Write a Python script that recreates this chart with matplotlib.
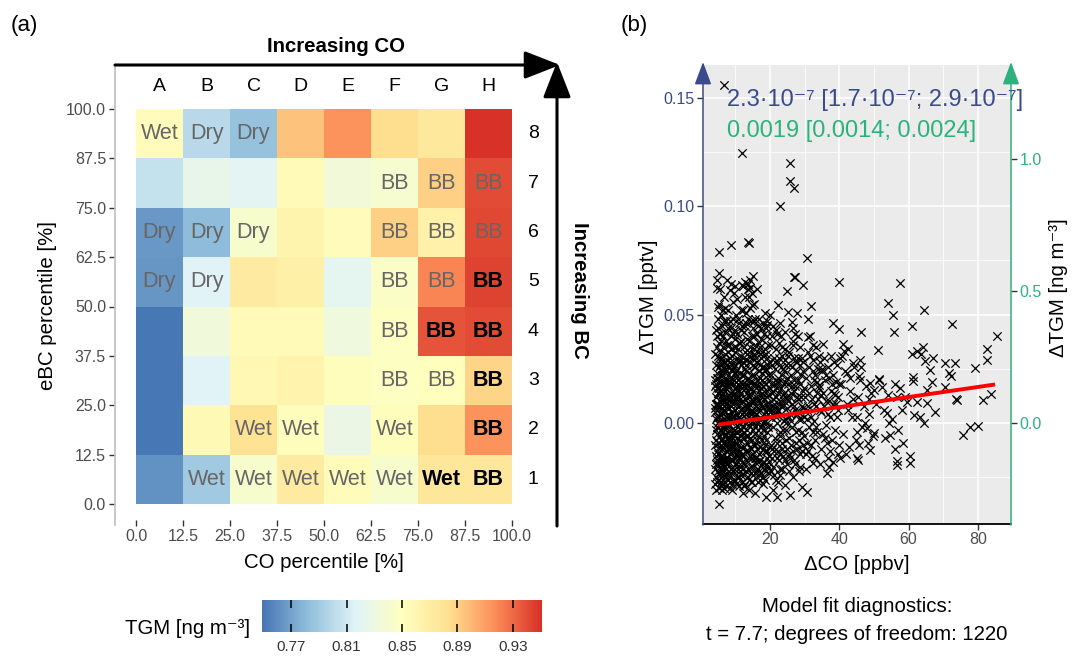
import numpy as np
import matplotlib
matplotlib.use('Agg')
import matplotlib.pyplot as plt
from matplotlib.colors import LinearSegmentedColormap
from matplotlib.patches import FancyArrowPatch, ArrowStyle
from matplotlib.ticker import FixedLocator

plt.rcParams['font.family'] = ['Liberation Sans', 'DejaVu Sans']

# ---------------- data: panel (a) ----------------
co_edges = [0.0, 12.5, 25.0, 37.5, 50.0, 62.5, 75.0, 87.5, 100.0]
bc_edges = [0.0, 12.5, 25.0, 37.5, 50.0, 62.5, 75.0, 87.5, 100.0]
col_names = ['A', 'B', 'C', 'D', 'E', 'F', 'G', 'H']
row_names = ['1', '2', '3', '4', '5', '6', '7', '8']

# mean TGM [ng m-3], rows = BC class 1 (bottom) .. 8 (top)
tgm_grid = [
    [0.762, 0.790, 0.842, 0.872, 0.853, 0.842, 0.876, 0.876],
    [0.750, 0.857, 0.880, 0.852, 0.828, 0.852, 0.884, 0.915],
    [0.750, 0.817, 0.858, 0.863, 0.852, 0.848, 0.851, 0.888],
    [0.750, 0.834, 0.856, 0.855, 0.832, 0.848, 0.938, 0.940],
    [0.764, 0.817, 0.872, 0.866, 0.822, 0.846, 0.920, 0.944],
    [0.765, 0.782, 0.842, 0.862, 0.853, 0.890, 0.865, 0.942],
    [0.805, 0.825, 0.820, 0.855, 0.835, 0.840, 0.890, 0.940],
    [0.853, 0.800, 0.785, 0.895, 0.915, 0.884, 0.875, 0.950],
]
cell_labels = [
    ['', 'Wet', 'Wet', 'Wet', 'Wet', 'Wet', 'Wet', 'BB'],
    ['', '', 'Wet', 'Wet', '', 'Wet', '', 'BB'],
    ['', '', '', '', '', 'BB', 'BB', 'BB'],
    ['', '', '', '', '', 'BB', 'BB', 'BB'],
    ['Dry', 'Dry', '', '', '', 'BB', 'BB', 'BB'],
    ['Dry', 'Dry', 'Dry', '', '', 'BB', 'BB', 'BB'],
    ['', '', '', '', '', 'BB', 'BB', 'BB'],
    ['Wet', 'Dry', 'Dry', '', '', '', '', ''],
]
cell_bold = [
    [0, 0, 0, 0, 0, 0, 1, 1],
    [0, 0, 0, 0, 0, 0, 0, 1],
    [0, 0, 0, 0, 0, 0, 0, 1],
    [0, 0, 0, 0, 0, 0, 1, 1],
    [0, 0, 0, 0, 0, 0, 0, 1],
    [0, 0, 0, 0, 0, 0, 0, 0],
    [0, 0, 0, 0, 0, 0, 0, 0],
    [0, 0, 0, 0, 0, 0, 0, 0],
]
cbar_ticks = [0.77, 0.81, 0.85, 0.89, 0.93]
tgm_range = (0.749, 0.951)

# ---------------- data: panel (b) ----------------
# sparse points (dCO [ppbv], dTGM [pptv])
outer_pts = """
6.7 0.156, 11.8 0.1246, 25.8 0.1197, 25.8 0.1117, 26.9 0.1086, 22.9 0.1003, 5.3 0.079, 8.7 0.082,
13.7 0.0836, 13.9 0.0830, 30.8 0.0759, 27.2 0.0675, 39.8 0.0651, 57.5 0.0647, 54.0 0.0552, 55.5 0.0498,
64.5 0.0521, 72.5 0.0456, 55.9 0.0421, 61.0 0.0447, 46.3 0.0421, 40.0 0.0436, 85.5 0.0401, 82.6 0.0340,
82.6 0.0290, 79.1 0.0255, 70.4 0.0278, 73.3 0.0278, 71.8 0.0232, 72.2 0.0218, 83.9 0.0134, 81.5 0.0106,
74.0 0.0106, 73.6 0.0112, 70.6 0.0167, 67.7 0.0052, 75.6 -0.0055, 77.8 -0.0020, 80.0 -0.0014, 64.5 -0.0001,
63.4 0.0029, 61.6 0.0037, 59.5 0.0098, 65.3 0.0091, 60.3 -0.0183, 60.3 -0.0152, 56.6 -0.0194, 56.6 -0.0175,
58.3 -0.0091, 56.1 -0.0121, 54.7 -0.0055, 54.5 -0.0001, 53.7 0.0045, 52.2 0.0167, 61.4 0.0213, 61.4 0.0196,
64.1 0.0352, 62.4 0.0332, 61.0 0.0321, 63.6 0.0321, 64.8 0.0286, 66.2 0.0247, 67.2 0.0298, 65.3 0.0152,
66.7 0.0190, 62.4 0.0098, 57.6 0.0164, 56.6 0.0121, 51.6 0.0203, 51.3 0.0336, 48.9 0.0183, 49.9 0.0152,
45.8 0.0217, 46.0 0.0290, 44.1 0.0275, 42.2 0.0229, 40.2 0.0298, 41.4 0.0333, 41.2 0.0367, 35.2 0.0367,
32.5 0.0359, 31.1 0.0395, 31.1 0.0482, 31.9 0.0539, 29.6 0.0636, 27.0 0.0674, 24.8 0.0608, 22.2 0.0544,
26.4 0.0467, 27.7 0.0506, 19.0 0.0452, 18.6 0.0506, 38.3 0.0460, 34.0 0.0175, 39.7 0.0121, 42.6 0.0060,
45.1 0.0029, 47.9 -0.0024, 49.9 -0.0047, 48.9 -0.0124, 45.1 -0.0163, 45.4 -0.0172, 40.2 -0.0163, 36.4 -0.0232,
36.9 -0.0201, 32.5 -0.0186, 30.6 -0.0317, 29.2 -0.0294, 26.7 -0.0247, 25.8 -0.0332, 24.3 -0.0286, 21.9 -0.0340,
20.8 -0.0309, 18.8 -0.0340, 15.7 -0.0324, 12.3 -0.0324, 22.9 -0.0240, 17.1 -0.0263, 5.3 -0.0373, 5.8 -0.0286,
5.3 0.069, 7.5 0.066, 9.8 0.063, 13.6 0.064, 15.0 0.068, 16.2 0.062, 10.5 0.057, 4.6 0.0622, 8.4 0.0613,
14.2 0.0622, 11.8 0.0636, 5.0 0.0536, 14.7 0.0544, 25.2 0.0513
"""
# dense core of the cloud, estimated by eye (first pass)
core_pts = """
4.2 -0.021, 4.5 0.012, 4.8 -0.005, 5.0 0.031, 5.3 -0.018, 5.6 0.004, 5.9 -0.027, 6.2 0.018, 6.5 -0.011,
6.8 0.026, 7.1 -0.002, 7.4 0.009, 7.7 -0.016, 4.3 0.002, 4.7 -0.013, 5.1 0.021, 5.5 -0.024, 5.8 0.011,
6.1 -0.008, 6.4 0.035, 6.7 -0.020, 7.0 0.015, 7.3 -0.029, 7.6 0.003, 7.9 0.022, 4.4 0.027, 4.9 -0.009,
5.2 0.008, 5.7 -0.003, 6.0 0.045, 6.3 -0.015, 6.6 0.006, 6.9 -0.025, 7.2 0.038, 7.5 -0.007, 7.8 0.013,
4.6 -0.017, 5.4 0.016, 6.0 -0.012, 6.6 0.028, 7.3 0.001, 4.1 0.007, 4.8 0.040, 5.5 -0.001, 6.2 -0.022,
6.9 0.010, 7.6 -0.019, 5.0 -0.026, 5.7 0.024, 6.4 -0.004, 7.1 0.020, 7.8 -0.010, 4.5 -0.008, 5.3 0.055,
6.1 0.030, 6.8 -0.014, 7.5 0.017, 4.2 0.017, 5.0 0.000, 5.8 -0.021, 6.5 0.012, 7.2 -0.005, 7.9 0.033,
4.9 0.048, 5.6 0.062, 6.3 0.052, 7.0 0.042, 4.6 0.066, 5.9 0.038, 6.7 0.058, 7.4 0.047, 5.2 -0.030,
6.0 -0.028, 6.8 0.002, 4.3 -0.025, 5.1 0.014, 5.9 0.005, 6.6 -0.009, 7.4 0.024, 4.7 0.021, 5.4 -0.011,
6.2 0.009, 7.0 -0.017, 7.7 0.007, 4.4 -0.003, 5.2 0.026, 5.9 -0.016, 6.7 0.019, 7.5 -0.023, 4.8 0.009,
5.5 0.033, 6.3 -0.026, 7.1 0.028, 7.8 -0.001,
8.1 -0.018, 8.4 0.011, 8.7 -0.006, 9.0 0.024, 9.3 -0.022, 9.6 0.003, 9.9 0.016, 10.2 -0.012, 10.5 0.030,
10.8 -0.002, 11.1 0.008, 11.4 -0.020, 11.7 0.019, 8.2 0.036, 8.5 -0.027, 8.8 0.014, 9.1 -0.009, 9.4 0.041,
9.7 -0.015, 10.0 0.006, 10.3 0.022, 10.6 -0.025, 10.9 0.012, 11.2 -0.008, 11.5 0.027, 11.8 -0.014,
8.3 0.001, 8.6 0.021, 8.9 -0.031, 9.2 0.009, 9.5 -0.003, 9.8 0.033, 10.1 -0.019, 10.4 0.015, 10.7 -0.010,
11.0 0.046, 11.3 0.002, 11.6 -0.024, 11.9 0.010, 8.0 0.052, 8.6 0.064, 9.2 0.056, 9.7 0.060, 10.3 0.050,
10.9 0.037, 11.5 0.043, 8.3 -0.011, 8.9 0.005, 9.4 -0.017, 10.0 0.027, 10.6 0.004, 11.1 -0.016, 11.7 0.031,
8.4 0.028, 9.0 -0.013, 9.6 0.018, 10.2 -0.004, 10.8 0.020, 11.4 0.000, 8.8 -0.021, 9.9 -0.026, 11.0 -0.029,
8.2 0.007, 9.3 0.013, 10.5 -0.007, 11.6 0.014, 8.7 0.044, 9.8 0.039, 10.9 0.029, 8.5 -0.001, 9.5 0.026,
10.4 -0.014, 11.3 0.023, 11.9 -0.005, 8.1 0.017, 9.1 0.031, 10.1 0.011, 11.2 0.017, 8.9 0.025, 10.7 0.034,
8.6 -0.008, 9.7 -0.006, 10.6 0.009, 11.5 -0.011,
12.1 -0.015, 12.4 0.008, 12.7 0.025, 13.0 -0.006, 13.3 0.014, 13.6 -0.021, 13.9 0.033, 14.2 0.002,
14.5 -0.012, 14.8 0.019, 15.1 -0.003, 15.4 0.040, 15.7 -0.018, 12.2 0.030, 12.5 -0.024, 12.8 0.011,
13.1 0.046, 13.4 -0.009, 13.7 0.021, 14.0 -0.016, 14.3 0.028, 14.6 0.005, 14.9 -0.027, 15.2 0.015,
15.5 0.003, 15.8 0.026, 12.3 0.063, 12.9 0.065, 13.5 0.062, 14.1 0.066, 14.7 0.060, 15.3 0.055,
12.6 0.042, 13.2 0.051, 13.8 0.038, 14.4 0.047, 15.0 0.044, 15.6 0.036, 12.0 0.004, 12.6 -0.007,
13.2 0.018, 13.8 -0.001, 14.4 -0.020, 15.0 0.010, 15.6 -0.010, 12.4 0.022, 13.0 -0.017, 13.6 0.007,
14.2 0.035, 14.8 -0.008, 15.4 0.022, 12.8 -0.028, 13.4 0.029, 14.0 0.012, 14.6 -0.023, 15.2 -0.014,
15.9 0.008, 12.2 -0.002, 13.5 0.001, 14.7 0.030, 15.8 0.017, 12.9 0.016, 14.1 -0.011, 15.3 0.032,
13.7 -0.013, 14.9 0.006, 12.5 0.035, 15.6 0.048,
16.1 -0.012, 16.4 0.010, 16.7 -0.022, 17.0 0.027, 17.3 0.002, 17.6 -0.008, 17.9 0.017, 18.2 -0.018,
18.5 0.034, 18.8 0.005, 19.1 -0.004, 19.4 0.022, 19.7 -0.015, 16.2 0.041, 16.5 -0.003, 16.8 0.015,
17.1 -0.017, 17.4 0.030, 17.7 0.008, 18.0 -0.025, 18.3 0.019, 18.6 -0.010, 18.9 0.044, 19.2 0.012,
19.5 -0.020, 19.8 0.028, 16.3 0.020, 16.9 0.048, 17.5 0.039, 18.1 0.046, 18.7 0.025, 19.3 0.036,
19.9 0.050, 16.6 -0.027, 17.2 -0.011, 17.8 -0.001, 18.4 -0.006, 19.0 0.000, 19.6 0.009, 16.0 0.004,
16.6 0.033, 17.2 0.013, 17.8 0.023, 18.4 0.011, 19.0 -0.013, 19.6 0.016, 16.4 -0.018, 17.0 0.006,
17.6 0.026, 18.2 0.001, 18.8 -0.019, 19.4 0.004, 16.8 0.037, 18.0 0.031, 19.2 0.040, 17.4 -0.023,
18.6 -0.026,
20.2 -0.010, 20.6 0.014, 21.0 -0.020, 21.4 0.025, 21.8 0.003, 22.2 -0.013, 22.6 0.019, 23.0 -0.004,
23.4 0.031, 23.8 0.008, 24.2 -0.017, 24.6 0.012, 20.4 0.036, 20.8 -0.002, 21.2 0.009, 21.6 -0.026,
22.0 0.041, 22.4 0.006, 22.8 -0.021, 23.2 0.016, 23.6 -0.009, 24.0 0.024, 24.4 0.002, 24.8 -0.012,
20.3 0.022, 21.1 0.030, 21.9 0.016, 22.7 0.037, 23.5 0.022, 24.3 0.034, 20.5 -0.016, 21.3 -0.007,
22.1 0.000, 22.9 0.010, 23.7 -0.015, 24.5 -0.003, 20.9 0.045, 22.3 0.028, 23.3 0.040, 24.7 0.027,
20.7 0.006, 21.7 0.012, 22.5 -0.017, 23.9 0.018, 24.9 0.007, 21.5 0.018, 23.1 0.004, 24.1 0.010,
25.2 0.010, 25.6 -0.014, 26.0 0.022, 26.4 -0.002, 26.8 0.015, 27.2 -0.019, 27.6 0.028, 28.0 0.005,
28.4 -0.008, 28.8 0.018, 29.2 -0.013, 29.6 0.024, 25.4 0.033, 25.8 0.004, 26.2 -0.010, 26.6 0.038,
27.0 0.008, 27.4 -0.004, 27.8 0.012, 28.2 0.030, 28.6 -0.020, 29.0 0.002, 29.4 0.015, 29.8 -0.006,
25.5 -0.022, 26.3 0.017, 27.1 0.041, 27.9 -0.012, 28.7 0.035, 29.5 0.007, 25.9 0.027, 26.9 -0.017,
28.1 0.020, 29.1 0.030,
30.2 0.012, 30.7 -0.009, 31.2 0.026, 31.7 0.003, 32.2 -0.015, 32.7 0.020, 33.2 0.008, 33.7 -0.004,
34.2 0.016, 34.7 -0.012, 30.4 -0.021, 30.9 0.033, 31.4 -0.002, 31.9 0.017, 32.4 0.029, 32.9 -0.008,
33.4 0.035, 33.9 0.011, 34.4 -0.019, 34.9 0.024, 30.6 0.006, 31.6 0.040, 32.6 0.001, 33.6 0.019,
34.6 0.005, 31.0 -0.013, 32.0 0.011, 33.0 -0.016, 34.0 0.031,
35.3 0.014, 35.8 -0.007, 36.3 0.022, 36.8 0.004, 37.3 -0.013, 37.8 0.018, 38.3 0.009, 38.8 -0.003,
39.3 0.027, 39.8 -0.010, 35.6 0.030, 36.6 -0.016, 37.6 0.031, 38.6 0.014, 39.6 0.006, 36.1 -0.001,
37.1 0.010, 38.1 -0.018, 39.1 0.019,
40.5 0.018, 41.0 -0.005, 41.6 0.024, 42.1 0.009, 42.7 -0.011, 43.2 0.015, 43.8 0.003, 44.3 0.026,
44.9 -0.008, 45.4 0.012, 46.0 0.020, 46.5 -0.002, 47.1 0.008, 47.6 0.017, 48.2 -0.009, 48.7 0.004,
49.3 0.014, 40.8 0.031, 41.9 -0.014, 43.0 0.021, 44.1 0.011, 45.2 -0.004, 46.3 0.026, 47.4 0.000,
48.5 0.011, 49.6 -0.006, 42.4 0.034, 45.7 -0.010,
50.5 0.009, 51.4 0.020, 52.8 0.006, 53.3 -0.007, 54.0 0.013, 55.1 0.002, 56.2 0.018, 57.0 -0.003,
58.0 0.006, 59.0 0.012
"""
# dense core, second pass (fills the solid black region at low dCO)
core_pts2 = """
4.15 0.005, 4.35 -0.015, 4.55 0.023, 4.75 -0.002, 4.95 0.014, 5.15 -0.023, 5.35 0.030, 5.55 0.010,
5.75 -0.008, 5.95 0.019, 6.15 -0.017, 6.35 0.001, 6.55 0.024, 6.75 -0.006, 6.95 0.016, 7.15 -0.021,
7.35 0.012, 7.55 0.029, 7.75 -0.012, 7.95 0.004, 4.25 -0.010, 4.45 0.018, 4.65 0.003, 4.85 -0.022,
5.05 0.009, 5.25 0.037, 5.45 -0.006, 5.65 0.015, 5.85 -0.029, 6.05 0.022, 6.25 0.013, 6.45 -0.019,
6.65 -0.001, 6.85 0.032, 7.05 0.005, 7.25 -0.013, 7.45 0.020, 7.65 -0.004, 7.85 0.026, 4.05 -0.028,
4.2 0.032, 4.4 -0.019, 4.6 0.008, 4.8 0.016, 5.0 -0.014, 5.2 0.019, 5.4 0.001, 5.6 -0.020, 5.8 0.028,
6.0 0.007, 6.2 -0.004, 6.4 0.014, 6.6 -0.024, 6.8 0.010, 7.0 0.025, 7.2 -0.009, 7.4 0.003, 7.6 0.011,
7.8 -0.026, 8.0 0.019, 4.3 0.043, 4.7 0.035, 5.1 0.044, 5.5 0.041, 5.9 0.050, 6.3 0.040, 6.7 0.047,
7.1 0.053, 7.5 0.036, 7.9 0.044, 4.5 -0.031, 4.9 -0.019, 5.3 -0.009, 5.7 -0.015, 6.1 -0.031, 6.5 -0.002,
6.9 -0.010, 7.3 -0.018, 7.7 0.018, 4.1 0.020, 4.4 0.009, 4.8 -0.027, 5.2 0.003, 5.6 0.027, 6.0 -0.018,
6.4 0.022, 6.8 -0.030, 7.2 0.009, 7.6 -0.013, 8.0 -0.007,
8.15 0.003, 8.35 -0.014, 8.55 0.019, 8.75 -0.023, 8.95 0.010, 9.15 0.027, 9.35 -0.005, 9.55 0.014,
9.75 -0.019, 9.95 0.006, 10.15 0.024, 10.35 -0.009, 10.55 0.012, 10.75 -0.021, 10.95 0.003, 11.15 0.028,
11.35 -0.013, 11.55 0.006, 11.75 -0.003, 11.95 0.022, 8.25 -0.025, 8.45 0.030, 8.65 -0.003, 8.85 0.034,
9.05 -0.017, 9.25 0.001, 9.45 0.020, 9.65 -0.026, 9.85 0.012, 10.05 -0.013, 10.25 0.035, 10.45 0.002,
10.65 0.018, 10.85 -0.015, 11.05 0.015, 11.25 -0.022, 11.45 0.011, 11.65 0.038, 11.85 -0.018, 8.05 -0.008,
8.2 0.013, 8.6 0.008, 9.0 0.003, 9.4 -0.011, 9.8 0.023, 10.2 0.016, 10.6 -0.004, 11.0 0.000, 11.4 0.017,
11.8 0.004, 8.4 0.047, 8.8 0.040, 9.2 0.048, 9.6 0.035, 10.0 0.043, 10.4 0.041, 10.8 0.048, 11.2 0.037,
11.6 0.052, 12.0 0.045, 8.3 -0.030, 8.7 -0.017, 9.1 -0.028, 9.5 -0.021, 9.9 -0.009, 10.3 -0.028,
10.7 -0.018, 11.1 -0.025, 11.5 -0.006, 11.9 -0.027,
12.15 0.010, 12.35 -0.011, 12.55 0.017, 12.75 -0.019, 12.95 0.004, 13.15 0.024, 13.35 -0.003, 13.55 0.013,
13.75 -0.025, 13.95 0.009, 14.15 0.019, 14.35 -0.007, 14.55 0.013, 14.75 -0.016, 14.95 0.027, 15.15 0.005,
15.35 -0.010, 15.55 0.018, 15.75 -0.005, 15.95 0.030, 12.25 0.028, 12.45 -0.004, 12.65 0.006, 12.85 0.033,
13.05 -0.013, 13.25 0.008, 13.45 0.039, 13.65 -0.006, 13.85 0.016, 14.05 0.031, 14.25 -0.015, 14.45 0.004,
14.65 0.022, 14.85 0.001, 15.05 -0.020, 15.25 0.010, 15.45 0.026, 15.65 -0.016, 15.85 0.012, 12.05 -0.021,
12.3 0.052, 12.9 0.045, 13.5 0.048, 14.1 0.053, 14.7 0.040, 15.3 0.047, 12.6 -0.029, 13.2 -0.022,
13.8 -0.031, 14.4 -0.027, 15.0 -0.024, 15.6 -0.023, 12.2 0.018, 12.8 0.000, 13.4 0.020, 14.0 0.003,
14.6 0.016, 15.2 0.000, 15.8 -0.002, 13.1 0.027, 14.3 0.010, 15.5 0.034, 13.9 0.058, 12.7 0.058,
16.15 0.006, 16.35 -0.008, 16.55 0.017, 16.75 0.002, 16.95 -0.014, 17.15 0.021, 17.35 0.009, 17.55 -0.019,
17.75 0.014, 17.95 -0.003, 18.15 0.026, 18.35 0.004, 18.55 -0.013, 18.75 0.018, 18.95 -0.008, 19.15 0.030,
19.35 0.007, 19.55 -0.002, 19.75 0.020, 19.95 -0.011, 16.25 0.028, 16.45 -0.021, 16.65 0.011, 16.85 -0.006,
17.05 0.035, 17.25 -0.002, 17.45 0.016, 17.65 0.033, 17.85 -0.012, 18.05 0.012, 18.25 -0.021, 18.45 0.024,
18.65 0.001, 18.85 0.032, 19.05 0.015, 19.25 -0.016, 19.45 0.027, 19.65 -0.023, 19.85 0.005, 16.05 -0.016,
16.5 0.045, 17.3 0.044, 18.3 0.041, 19.1 0.047, 16.9 -0.024, 17.9 -0.028, 18.9 -0.022, 19.7 -0.018,
16.7 0.024, 17.7 0.020, 18.7 0.009, 19.5 0.013, 16.3 0.000, 17.1 0.003, 18.1 0.007,
20.1 0.003, 20.4 0.018, 20.7 -0.012, 21.0 0.011, 21.3 0.028, 21.6 0.004, 21.9 -0.016, 22.2 0.021,
22.5 0.009, 22.8 -0.006, 23.1 0.026, 23.4 -0.012, 23.7 0.013, 24.0 0.001, 24.3 0.019, 24.6 -0.008,
24.9 0.021, 20.25 -0.022, 20.55 0.027, 20.85 0.015, 21.15 -0.013, 21.45 0.006, 21.75 0.034, 22.05 -0.009,
22.35 0.014, 22.65 0.030, 22.95 -0.014, 23.25 0.008, 23.55 0.035, 23.85 -0.003, 24.15 0.014, 24.45 0.029,
24.75 0.000, 20.6 0.040, 21.8 0.043, 23.0 0.046, 24.2 0.042, 21.2 -0.024, 22.4 -0.027, 23.6 -0.021,
24.8 -0.019, 22.0 0.019, 23.8 0.025, 20.9 0.008,
25.1 0.018, 25.4 -0.007, 25.7 0.012, 26.0 0.001, 26.3 0.026, 26.6 -0.013, 26.9 0.020, 27.2 0.006,
27.5 -0.009, 27.8 0.024, 28.1 0.011, 28.4 0.002, 28.7 -0.014, 29.0 0.022, 29.3 0.008, 29.6 -0.010,
29.9 0.016, 25.25 0.031, 25.85 -0.016, 26.45 0.009, 27.05 0.030, 27.65 0.004, 28.25 -0.022, 28.85 0.012,
29.45 0.028, 25.55 0.003, 26.15 0.014, 26.75 0.036, 27.35 0.017, 27.95 -0.003, 28.55 0.027, 29.15 -0.004,
29.75 0.003, 26.5 0.044, 28.0 0.040,
30.3 0.021, 30.8 0.002, 31.3 0.014, 31.8 -0.010, 32.3 0.024, 32.8 0.009, 33.3 -0.002, 33.8 0.025,
34.3 0.006, 34.8 0.013, 35.3 -0.005, 35.8 0.020, 36.3 0.010, 36.8 0.026, 37.3 0.003, 37.8 -0.008,
38.3 0.022, 38.8 0.013, 39.3 0.003, 39.8 0.018, 30.5 -0.014, 31.5 0.031, 32.5 -0.004, 33.5 0.014,
34.5 0.028, 35.5 0.008, 36.5 -0.009, 37.5 0.015, 38.5 0.028, 39.5 -0.014, 31.1 0.008, 33.1 0.022,
35.1 0.025, 37.1 0.021, 39.1 0.009
"""


def parse_pts(txt):
    rows = [p.split() for p in txt.replace('\n', ' ').split(',') if p.strip()]
    arr = np.array(rows, dtype=float)
    return arr[:, 0], arr[:, 1]


parts = [parse_pts(t) for t in (outer_pts, core_pts, core_pts2)]
dco = np.concatenate([p[0] for p in parts])
dtgm = np.concatenate([p[1] for p in parts])

fit_intercept = -0.0019   # pptv
fit_slope = 0.000232      # pptv per ppbv
fit_range = (5.0, 85.0)
pptv_to_ng = 8.2          # secondary axis factor

# ---------------- layout helpers ----------------
W, H = 1072, 657
fig = plt.figure(figsize=(W / 100, H / 100), dpi=100)


def px_axes(x0, y0, x1, y1):
    return fig.add_axes([x0 / W, 1 - y1 / H, (x1 - x0) / W, (y1 - y0) / H])


def ftext(x, y, s, **kw):
    return fig.text(x / W, 1 - y / H, s, **kw)


def farrow(x0, y0, x1, y1, color, lw, hl, hw):
    fig.add_artist(FancyArrowPatch(
        posA=(x0 / W, 1 - y0 / H), posB=(x1 / W, 1 - y1 / H),
        transform=fig.transFigure,
        arrowstyle=ArrowStyle('-|>', head_length=hl, head_width=hw),
        mutation_scale=1, color=color, lw=lw, shrinkA=0, shrinkB=0))


navy = '#3b4a8c'
green = '#2db27d'
gray30 = '#4d4d4d'

# ---------------- panel (a): heatmap ----------------
cmap = LinearSegmentedColormap.from_list(
    'rdylbu7', ['#4575b4', '#91bfdb', '#e0f3f8', '#ffffbf', '#fee090', '#fc8d59', '#d73027'])

ax = px_axes(136, 109, 512, 504)
mesh = ax.pcolormesh(co_edges, bc_edges, np.array(tgm_grid), cmap=cmap,
                     vmin=tgm_range[0], vmax=tgm_range[1], shading='flat')
ax.set_xlim(0, 100)
ax.set_ylim(0, 100)

xc = [(co_edges[i] + co_edges[i + 1]) / 2 for i in range(8)]
yc = [(bc_edges[i] + bc_edges[i + 1]) / 2 for i in range(8)]
for r in range(8):
    for c in range(8):
        lab = cell_labels[r][c]
        if not lab:
            continue
        if cell_bold[r][c]:
            ax.text(xc[c], yc[r], lab, ha='center', va='center', fontsize=15.5,
                    fontweight='bold', color='black')
        else:
            ax.text(xc[c], yc[r], lab, ha='center', va='center', fontsize=15.5,
                    color='#666666')

for c in range(8):
    ax.text(xc[c], 105.6, col_names[c], ha='center', va='center', fontsize=14,
            color='black', clip_on=False)
for r in range(8):
    ax.text(105.7, yc[r], row_names[r], ha='center', va='center', fontsize=14,
            color='black', clip_on=False)

for side in ['top', 'right']:
    ax.spines[side].set_visible(False)
ax.spines['left'].set_position(('outward', 15.1))
ax.spines['left'].set_bounds(-5.3, 111.0)
ax.spines['left'].set_color('#c4c4c4')
ax.spines['left'].set_linewidth(1.3)
ax.spines['bottom'].set_position(('outward', 11.5))
ax.spines['bottom'].set_visible(False)
ax.set_xticks(co_edges)
ax.set_xticklabels(['%.1f' % v for v in co_edges])
ax.set_yticks(bc_edges)
ax.set_yticklabels(['%.1f' % v for v in bc_edges])
ax.tick_params(axis='both', labelsize=11.5, labelcolor=gray30, color='#333333',
               length=4, width=1.0, pad=2.5)

ftext(324, 563, 'CO percentile [%]', ha='center', va='center', fontsize=14.7)
ftext(48, 306, 'eBC percentile [%]', ha='center', va='center', fontsize=14.7,
      rotation=90)
ftext(336, 47, 'Increasing CO', ha='center', va='center', fontsize=14.7,
      fontweight='bold')
ftext(579, 290, 'Increasing BC', ha='center', va='center', fontsize=14.7,
      fontweight='bold', rotation=270)
ftext(24, 26, '(a)', ha='center', va='center', fontsize=16)

farrow(115, 65, 560, 65, 'black', 2.2, 22, 8.6)
farrow(557, 526, 557, 62, 'black', 2.2, 22, 8.6)

# colourbar
cax = px_axes(262, 600, 542, 632)
cb = fig.colorbar(mesh, cax=cax, orientation='horizontal', ticks=cbar_ticks)
cb.outline.set_visible(False)
cb.ax.set_xticklabels(['%.2f' % v for v in cbar_ticks])
cax.tick_params(axis='x', direction='in', length=6, width=1.1, color='black',
                top=True, bottom=True, labeltop=False, labelbottom=True,
                labelsize=11, labelcolor='#333333', pad=6)
ftext(250, 628, 'TGM [ng m⁻³]', ha='right', va='center', fontsize=14.7)

# ---------------- panel (b): scatter ----------------
bx = px_axes(703, 65, 1011, 524)
bx.set_facecolor('#ebebeb')
bx.scatter(dco, dtgm, marker='x', s=36, linewidths=0.9, color='black', zorder=3)
fx = np.array(fit_range)
bx.plot(fx, fit_intercept + fit_slope * fx, color='red', lw=2.8, zorder=4,
        solid_capstyle='butt')
bx.set_xlim(0.64, 89.6)
bx.set_ylim(-0.0465, 0.1651)

bx.xaxis.set_major_locator(FixedLocator([20, 40, 60, 80]))
bx.xaxis.set_minor_locator(FixedLocator([10, 30, 50, 70]))
bx.yaxis.set_major_locator(FixedLocator([0.0, 0.05, 0.10, 0.15]))
bx.yaxis.set_minor_locator(FixedLocator([-0.025, 0.025, 0.075, 0.125]))
bx.set_yticklabels(['0.00', '0.05', '0.10', '0.15'])
bx.grid(which='major', color='white', lw=1.1, zorder=0)
bx.grid(which='minor', color='white', lw=0.55, zorder=0)
bx.set_axisbelow(True)
bx.tick_params(which='minor', length=0)
bx.tick_params(axis='x', which='major', labelsize=11.5, labelcolor=gray30,
               color='#333333', length=4, width=1.0, pad=2)
bx.tick_params(axis='y', which='major', labelsize=11.5, labelcolor=navy,
               color='#333333', length=4, width=1.0, pad=2)
for side in ['top', 'left', 'right']:
    bx.spines[side].set_visible(False)
bx.spines['bottom'].set_color('black')
bx.spines['bottom'].set_linewidth(1.3)

bx2 = bx.twinx()
bx2.set_ylim(bx.get_ylim()[0] * pptv_to_ng, bx.get_ylim()[1] * pptv_to_ng)
bx2.yaxis.set_major_locator(FixedLocator([0.0, 0.5, 1.0]))
bx2.set_yticklabels(['0.0', '0.5', '1.0'])
bx2.tick_params(axis='y', labelsize=11.5, labelcolor=green, color='#333333',
                length=4, width=1.0, pad=2)
for side in ['top', 'left', 'right', 'bottom']:
    bx2.spines[side].set_visible(False)

farrow(703, 525, 703, 62, navy, 1.1, 14, 5.2)
farrow(1011, 525, 1011, 62, green, 1.1, 14, 5.2)

ftext(727, 100, '2.3·10⁻⁷ [1.7·10⁻⁷; 2.9·10⁻⁷]', ha='left', va='center',
      fontsize=17, color=navy)
ftext(727, 131, '0.0019 [0.0014; 0.0024]', ha='left', va='center',
      fontsize=17, color=green)

ftext(648, 297, 'ΔTGM [pptv]', ha='center', va='center', fontsize=14.7,
      rotation=90)
ftext(1058, 288, 'ΔTGM [ng m⁻³]', ha='center', va='center', fontsize=14.7,
      rotation=90)
ftext(857, 564, 'ΔCO [ppbv]', ha='center', va='center', fontsize=14.7)
ftext(857, 606, 'Model fit diagnostics:', ha='center', va='center', fontsize=14.7)
ftext(857, 635, 't = 7.7; degrees of freedom: 1220', ha='center', va='center',
      fontsize=14.7)
ftext(634, 26, '(b)', ha='center', va='center', fontsize=16)

fig.savefig('out.png', dpi=100)
